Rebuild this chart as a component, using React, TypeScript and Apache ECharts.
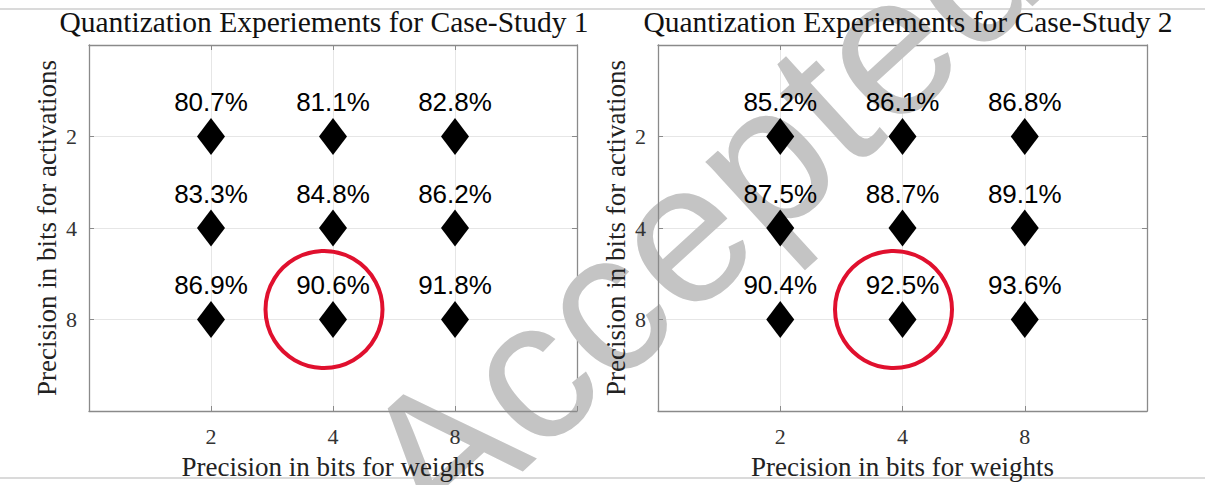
import React, { useEffect, useRef } from "react";
import * as echarts from "echarts";

const weightBits = [2, 4, 8];
const activationBits = [2, 4, 8];
const tickLabels = ["2", "4", "8"];
// rows: activation bits (2,4,8); columns: weight bits (2,4,8)
const accuracyCase1 = [
  [80.7, 81.1, 82.8],
  [83.3, 84.8, 86.2],
  [86.9, 90.6, 91.8],
];
const accuracyCase2 = [
  [85.2, 86.1, 86.8],
  [87.5, 88.7, 89.1],
  [90.4, 92.5, 93.6],
];
const highlightWeight = 4;
const highlightActivation = 8;
const titles = [
  "Quantization Experiements for Case-Study 1",
  "Quantization Experiements for Case-Study 2",
];
const xName = "Precision in bits for weights";
const yName = "Precision in bits for activations";
const watermarkWords = ["Draft", "Accepted"];

const SERIF = "'Liberation Serif', 'Times New Roman', serif";
const SANS = "'Liberation Sans', Arial, sans-serif";
const AX = "#8a8a8a";

function tickFmt(v: number) {
  return v >= 1 && v <= 3 ? tickLabels[v - 1] : "";
}

export default function App() {
  const ref = useRef<HTMLDivElement>(null);
  useEffect(() => {
    document.body.style.margin = "0";
    const chart = echarts.init(ref.current!, null, { renderer: "svg" });
    const grids = [
      { left: 89, top: 45, width: 488, height: 368 },
      { left: 658, top: 45, width: 489, height: 368 },
    ];
    const xAxes: any[] = [];
    const yAxes: any[] = [];
    const series: any[] = [];
    const datasets = [accuracyCase1, accuracyCase2];
    grids.forEach((_, g) => {
      xAxes.push({
        type: "value", gridIndex: g, min: 0, max: 4, interval: 1, position: "bottom", z: 3,
        axisLine: { show: true, onZero: false, lineStyle: { color: AX, width: 1.3 } },
        axisTick: { show: true, inside: true, length: 5, lineStyle: { color: AX } },
        axisLabel: { formatter: tickFmt, fontFamily: SERIF, fontSize: 22, color: "#333", margin: 14 },
        splitLine: { show: false },
        name: xName, nameLocation: "middle", nameGap: 42,
        nameTextStyle: { fontFamily: SERIF, fontSize: 27, color: "#222" },
      });
      xAxes.push({
        type: "value", gridIndex: g, min: 0, max: 4, interval: 1, position: "top", z: 0,
        axisLine: { show: true, onZero: false, lineStyle: { color: AX, width: 1.3 } },
        axisTick: { show: true, inside: true, length: 5, lineStyle: { color: AX } },
        axisLabel: { show: false },
        splitLine: { show: true, lineStyle: { color: "#e6e6e6", width: 1 } },
      });
      yAxes.push({
        type: "value", gridIndex: g, min: 0, max: 4, interval: 1, inverse: true, position: "left", z: 3,
        axisLine: { show: true, onZero: false, lineStyle: { color: AX, width: 1.3 } },
        axisTick: { show: true, inside: true, length: 5, lineStyle: { color: AX } },
        axisLabel: { formatter: tickFmt, fontFamily: SERIF, fontSize: 22, color: "#333", margin: 12 },
        splitLine: { show: false },
        name: yName, nameLocation: "middle", nameGap: 29,
        nameTextStyle: { fontFamily: SERIF, fontSize: 27, color: "#222" },
      });
      yAxes.push({
        type: "value", gridIndex: g, min: 0, max: 4, interval: 1, inverse: true, position: "right", z: 0,
        axisLine: { show: true, onZero: false, lineStyle: { color: AX, width: 1.3 } },
        axisTick: { show: true, inside: true, length: 5, lineStyle: { color: AX } },
        axisLabel: { show: false },
        splitLine: { show: true, lineStyle: { color: "#e6e6e6", width: 1 } },
      });
      const data: any[] = [];
      activationBits.forEach((a, i) => {
        weightBits.forEach((w, j) => {
          data.push([j + 1, i + 1, datasets[g][i][j]]);
        });
      });
      series.push({
        type: "scatter", xAxisIndex: g * 2, yAxisIndex: g * 2, z: 4,
        symbol: "diamond", symbolSize: [28, 37],
        itemStyle: { color: "#000", opacity: 1 },
        label: {
          show: true, position: "top", distance: 3,
          formatter: (p: any) => p.value[2].toFixed(1) + "%",
          fontFamily: SANS, fontSize: 26, color: "#000",
        },
        data,
      });
      series.push({
        type: "scatter", xAxisIndex: g * 2, yAxisIndex: g * 2, z: 5,
        symbol: "circle", symbolSize: 117, symbolOffset: [-9, -10],
        itemStyle: { color: "rgba(0,0,0,0)", borderColor: "#e0102e", borderWidth: 4, opacity: 1 },
        data: [[weightBits.indexOf(highlightWeight) + 1, activationBits.indexOf(highlightActivation) + 1]],
        silent: true,
      });
    });

    const rot = 0.74;
    const wmStyle = { fontSize: 200, fontFamily: SANS, fill: "#c4c4c4", textVerticalAlign: "middle" };

    chart.setOption({
      animation: false,
      backgroundColor: "#fff",
      title: [
        { text: titles[0], left: 319, top: 2, textAlign: "center", textStyle: { fontFamily: SERIF, fontSize: 29.5, fontWeight: "normal", color: "#111" } },
        { text: titles[1], left: 903, top: 2, textAlign: "center", textStyle: { fontFamily: SERIF, fontSize: 29.5, fontWeight: "normal", color: "#111" } },
      ],
      grid: grids,
      xAxis: xAxes,
      yAxis: yAxes,
      series,
      graphic: [
        { type: "line", z: 0, shape: { x1: 0, y1: 9, x2: 1205, y2: 9 }, style: { stroke: "#b5b5b5", lineWidth: 1.2 } },
        { type: "line", z: 0, shape: { x1: 0, y1: 478, x2: 1205, y2: 478 }, style: { stroke: "#b5b5b5", lineWidth: 1.2 } },
        {
          type: "text", z: 1, x: 351, y: 535, rotation: rot, silent: true,
          style: { ...wmStyle, text: watermarkWords[0], textAlign: "right" },
        },
        {
          type: "text", z: 1, x: 392, y: 497, rotation: rot, silent: true,
          style: { ...wmStyle, text: watermarkWords[1], textAlign: "left" },
        },
      ],
    });
    return () => chart.dispose();
  }, []);
  return <div ref={ref} style={{ width: 1205, height: 485 }} />;
}
